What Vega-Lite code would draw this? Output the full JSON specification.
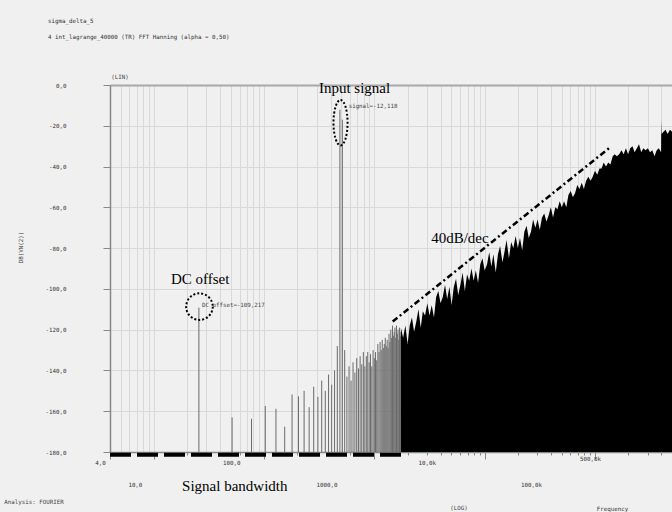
{
  "$schema": "https://vega.github.io/schema/vega-lite/v6.json",
  "width": 562,
  "height": 367,
  "autosize": "none",
  "padding": {"left": 110, "top": 85, "right": 0, "bottom": 60},
  "background": "#f0f0f0",
  "title": {
    "text": "sigma_delta_5",
    "subtitle": "4 int_lagrange_40000 (TR)  FFT Hanning (alpha = 0,50)",
    "anchor": "start",
    "frame": "group",
    "dx": -62,
    "offset": 34,
    "font": "DejaVu Sans Mono",
    "fontSize": 5.8,
    "fontWeight": "normal",
    "color": "#333333",
    "subtitleFont": "DejaVu Sans Mono",
    "subtitleFontSize": 5.8,
    "subtitleColor": "#333333",
    "subtitlePadding": 10
  },
  "config": {"view": {"stroke": null}},
  "datasets": {
    "bins": [
      {"f": 25.6, "db": -109.2}, {"f": 51.2, "db": -163}, {"f": 76.8, "db": -163.7}, {"f": 102.4, "db": -157.4},
      {"f": 128, "db": -158.8}, {"f": 153.6, "db": -167.6}, {"f": 179.2, "db": -151.8}, {"f": 204.8, "db": -152.7},
      {"f": 230.4, "db": -150}, {"f": 256, "db": -158}, {"f": 281.6, "db": -148}, {"f": 307.2, "db": -153},
      {"f": 332.8, "db": -145}, {"f": 358.4, "db": -150}, {"f": 384, "db": -142}, {"f": 409.6, "db": -147},
      {"f": 435.2, "db": -140}, {"f": 460.8, "db": -128}, {"f": 486.4, "db": -12.1}, {"f": 512, "db": -17},
      {"f": 537.6, "db": -130}, {"f": 563.2, "db": -143}, {"f": 588.8, "db": -138}, {"f": 614.4, "db": -145},
      {"f": 640, "db": -136}, {"f": 665.6, "db": -141}, {"f": 691.2, "db": -134}, {"f": 716.8, "db": -139},
      {"f": 742.4, "db": -133}, {"f": 768, "db": -137}, {"f": 793.6, "db": -131}, {"f": 819.2, "db": -138},
      {"f": 844.8, "db": -133}, {"f": 870.4, "db": -131}, {"f": 896, "db": -136}, {"f": 921.6, "db": -132},
      {"f": 947.2, "db": -138}, {"f": 972.8, "db": -130}, {"f": 998.4, "db": -134}, {"f": 1024, "db": -131},
      {"f": 1049.6, "db": -135}, {"f": 1075.2, "db": -127}, {"f": 1100.8, "db": -131}, {"f": 1126.4, "db": -126},
      {"f": 1152, "db": -130}, {"f": 1177.6, "db": -125}, {"f": 1203.2, "db": -129}, {"f": 1228.8, "db": -127},
      {"f": 1254.4, "db": -124}, {"f": 1280, "db": -128}, {"f": 1305.6, "db": -125}, {"f": 1331.2, "db": -129},
      {"f": 1356.8, "db": -122}, {"f": 1382.4, "db": -126}, {"f": 1408, "db": -120}, {"f": 1433.6, "db": -124},
      {"f": 1459.2, "db": -118}, {"f": 1484.8, "db": -123}, {"f": 1510.4, "db": -121}, {"f": 1536, "db": -119},
      {"f": 1561.6, "db": -124}, {"f": 1587.2, "db": -118}, {"f": 1612.8, "db": -122}, {"f": 1638.4, "db": -120},
      {"f": 1664, "db": -125}, {"f": 1689.6, "db": -119}, {"f": 1715.2, "db": -123}, {"f": 1740.8, "db": -121}
    ],
    "noise": [
      {"f": 1740, "db": -119}, {"f": 1820, "db": -124}, {"f": 1910, "db": -118}, {"f": 2000, "db": -127},
      {"f": 2090, "db": -118}, {"f": 2190, "db": -114}, {"f": 2290, "db": -121}, {"f": 2400, "db": -116},
      {"f": 2510, "db": -110}, {"f": 2630, "db": -119}, {"f": 2750, "db": -111}, {"f": 2880, "db": -113},
      {"f": 3020, "db": -107}, {"f": 3160, "db": -113}, {"f": 3310, "db": -108}, {"f": 3470, "db": -114},
      {"f": 3630, "db": -104}, {"f": 3800, "db": -101}, {"f": 3980, "db": -107}, {"f": 4170, "db": -104},
      {"f": 4370, "db": -98}, {"f": 4570, "db": -105}, {"f": 4790, "db": -99}, {"f": 5010, "db": -108},
      {"f": 5250, "db": -99}, {"f": 5500, "db": -95}, {"f": 5750, "db": -103}, {"f": 6030, "db": -98},
      {"f": 6310, "db": -92}, {"f": 6610, "db": -101}, {"f": 6920, "db": -93}, {"f": 7240, "db": -96},
      {"f": 7590, "db": -90}, {"f": 7940, "db": -96}, {"f": 8320, "db": -91}, {"f": 8710, "db": -97},
      {"f": 9120, "db": -88}, {"f": 9550, "db": -85}, {"f": 10000, "db": -91}, {"f": 10500, "db": -88},
      {"f": 11000, "db": -82}, {"f": 11500, "db": -89}, {"f": 12000, "db": -83}, {"f": 12600, "db": -92},
      {"f": 13200, "db": -83}, {"f": 13800, "db": -79}, {"f": 14500, "db": -87}, {"f": 15100, "db": -82},
      {"f": 15800, "db": -76}, {"f": 16600, "db": -85}, {"f": 17400, "db": -77}, {"f": 18200, "db": -80},
      {"f": 19100, "db": -74}, {"f": 20000, "db": -80}, {"f": 20900, "db": -75}, {"f": 21900, "db": -81},
      {"f": 22900, "db": -72}, {"f": 24000, "db": -69}, {"f": 25100, "db": -75}, {"f": 26300, "db": -72},
      {"f": 27500, "db": -66}, {"f": 28800, "db": -70}, {"f": 30200, "db": -66}, {"f": 31600, "db": -71},
      {"f": 33100, "db": -65}, {"f": 34700, "db": -63}, {"f": 36300, "db": -67}, {"f": 38000, "db": -64},
      {"f": 39800, "db": -60}, {"f": 41700, "db": -65}, {"f": 43700, "db": -60}, {"f": 45700, "db": -61},
      {"f": 47900, "db": -57}, {"f": 50100, "db": -60}, {"f": 52500, "db": -57}, {"f": 55000, "db": -60},
      {"f": 57500, "db": -54}, {"f": 60300, "db": -52}, {"f": 63100, "db": -55}, {"f": 66100, "db": -53},
      {"f": 69200, "db": -49}, {"f": 72400, "db": -51}, {"f": 75900, "db": -48}, {"f": 79400, "db": -51},
      {"f": 83200, "db": -47}, {"f": 87100, "db": -45}, {"f": 91200, "db": -47}, {"f": 95500, "db": -45},
      {"f": 100000, "db": -42}, {"f": 105000, "db": -44}, {"f": 110000, "db": -41}, {"f": 115000, "db": -41},
      {"f": 120000, "db": -38}, {"f": 126000, "db": -40}, {"f": 132000, "db": -38}, {"f": 138000, "db": -39},
      {"f": 145000, "db": -35}, {"f": 151000, "db": -34}, {"f": 158000, "db": -35}, {"f": 166000, "db": -34},
      {"f": 174000, "db": -32}, {"f": 182000, "db": -34}, {"f": 191000, "db": -31}, {"f": 200000, "db": -34},
      {"f": 209000, "db": -31}, {"f": 219000, "db": -30}, {"f": 229000, "db": -33}, {"f": 240000, "db": -31},
      {"f": 251000, "db": -29}, {"f": 263000, "db": -33}, {"f": 275000, "db": -31}, {"f": 288000, "db": -32},
      {"f": 302000, "db": -31}, {"f": 316000, "db": -33}, {"f": 331000, "db": -32}, {"f": 347000, "db": -35},
      {"f": 363000, "db": -32}, {"f": 380000, "db": -31}, {"f": 398000, "db": -33}, {"f": 400000, "db": -17},
      {"f": 403000, "db": -24}, {"f": 417000, "db": -23}, {"f": 437000, "db": -22}, {"f": 457000, "db": -24},
      {"f": 479000, "db": -22}, {"f": 501000, "db": -23}
    ],
    "bandwidth": [{"f": 4, "f2": 1750, "db": -181.4}],
    "slope": [{"f": 1466, "db": -116, "f2": 140000, "db2": -30.2}],
    "dc": [{"f": 25.9, "db": -108.7}],
    "sig": [{"f": 493, "db": -18.5}],
    "notes": [
      {"f": 661, "db": -1.5, "label": "Input signal"},
      {"f": 26.3, "db": -95.1, "label": "DC offset"},
      {"f": 5960, "db": -75, "label": "40dB/dec"},
      {"f": 54.2, "db": -196.6, "label": "Signal bandwidth"}
    ],
    "smallLeft": [
      {"f": 584, "db": -10.1, "label": "signal=-12,118"},
      {"f": 27.3, "db": -107.8, "label": "DC offset=-109,217"},
      {"f": 0.44, "db": -204.4, "label": "Analysis: FOURIER"}
    ],
    "smallCenter": [
      {"f": 4.93, "db": 3.9, "label": "(LIN)"},
      {"f": 5840, "db": -207.4, "label": "(LOG)"}
    ]
  },
  "encoding": {
    "x": {
      "field": "f",
      "type": "quantitative",
      "scale": {"type": "log", "domain": [4, 500000], "nice": false},
      "axis": {
        "title": "Frequency",
        "titleFont": "DejaVu Sans Mono",
        "titleFontSize": 5.8,
        "titleFontWeight": "normal",
        "titleColor": "#333333",
        "titleX": 502,
        "titleY": 56,
        "titleBaseline": "middle",
        "values": [4, 5, 6, 7, 8, 9, 10, 20, 30, 40, 50, 60, 70, 80, 90, 100, 200, 300, 400, 500, 600, 700, 800, 900, 1000, 2000, 3000, 4000, 5000, 6000, 7000, 8000, 9000, 10000, 20000, 30000, 40000, 50000, 60000, 70000, 80000, 90000, 100000, 200000, 300000, 400000, 500000],
        "labelExpr": "datum.value==4?'4,0':datum.value==10?['','10,0']:datum.value==100?'100,0':datum.value==1000?['','1000,0']:datum.value==10000?'10,0k':datum.value==100000?['','100,0k']:datum.value==500000?'500,0k':''",
        "labelOverlap": false,
        "labelBound": false,
        "labelFlush": false,
        "labelFont": "DejaVu Sans Mono",
        "labelFontSize": 5.8,
        "labelColor": "#333333",
        "labelLineHeight": 22,
        "labelPadding": 0,
        "labelOffset": {
          "condition": [
            {"test": "datum.value==4", "value": -10},
            {"test": "datum.value==10", "value": -19},
            {"test": "datum.value==100", "value": -33},
            {"test": "datum.value==1000", "value": -48},
            {"test": "datum.value==10000", "value": -58},
            {"test": "datum.value==100000", "value": -64},
            {"test": "datum.value==500000", "value": -82}
          ],
          "value": 0
        },
        "tickSize": {"condition": {"test": "datum.value==4||datum.value==10||datum.value==100||datum.value==1000||datum.value==10000||datum.value==100000", "value": 7}, "value": 3},
        "tickColor": "#888888",
        "domainColor": "#888888",
        "domainWidth": 1.5,
        "gridColor": "#d9d9d9",
        "gridWidth": 1
      }
    },
    "y": {
      "field": "db",
      "type": "quantitative",
      "scale": {"domain": [-180, 0], "nice": false, "zero": false},
      "axis": {
        "title": "DB(VN(2))",
        "titleFont": "DejaVu Sans Mono",
        "titleFontSize": 5.8,
        "titleFontWeight": "normal",
        "titleColor": "#333333",
        "titleX": -90,
        "titleY": 162,
        "titleAngle": -90,
        "titleAlign": "center",
        "titleBaseline": "middle",
        "values": [-180, -160, -140, -120, -100, -80, -60, -40, -20, 0],
        "labelExpr": "(datum.value<0?'-':'') + abs(datum.value) + ',0'",
        "labelFont": "DejaVu Sans Mono",
        "labelFontSize": 5.8,
        "labelColor": "#333333",
        "labelPadding": 37,
        "tickSize": 7,
        "tickColor": "#888888",
        "domainColor": "#888888",
        "domainWidth": 1.5,
        "gridColor": {"condition": {"test": "datum.value==0", "value": "#a8a8a8"}, "value": "#d9d9d9"},
        "gridWidth": {"condition": {"test": "datum.value==0", "value": 2}, "value": 1}
      }
    }
  },
  "layer": [
    {
      "data": {"name": "bins"},
      "mark": {"type": "rule", "color": "#6a6a6a", "strokeWidth": 1},
      "encoding": {"y2": {"datum": -180}}
    },
    {
      "data": {"name": "noise"},
      "mark": {"type": "area", "color": "#000000", "interpolate": "linear"},
      "encoding": {"y2": {"datum": -180}}
    },
    {
      "data": {"name": "bandwidth"},
      "mark": {"type": "rule", "color": "#000000", "strokeWidth": 4, "strokeDash": [21, 6]},
      "encoding": {"x2": {"field": "f2"}}
    },
    {
      "data": {"name": "slope"},
      "mark": {"type": "rule", "color": "#000000", "strokeWidth": 2.5, "strokeDash": [6, 3, 2, 3]},
      "encoding": {"x2": {"field": "f2"}, "y2": {"field": "db2"}}
    },
    {
      "data": {"name": "dc"},
      "mark": {"type": "point", "shape": "circle", "size": 707, "filled": false, "stroke": "#000000", "strokeWidth": 2, "strokeDash": [2, 2], "opacity": 1}
    },
    {
      "data": {"name": "sig"},
      "mark": {"type": "point", "shape": "M0,-1A0.31,1,0,1,1,0,1A0.31,1,0,1,1,0,-1Z", "size": 2061, "filled": false, "stroke": "#000000", "strokeWidth": 2, "strokeDash": [2, 2], "opacity": 1}
    },
    {
      "data": {"name": "notes"},
      "mark": {"type": "text", "font": "Liberation Serif", "fontSize": 15, "color": "#000000", "baseline": "middle", "align": "center"},
      "encoding": {"text": {"field": "label"}}
    },
    {
      "data": {"name": "smallLeft"},
      "mark": {"type": "text", "font": "DejaVu Sans Mono", "fontSize": 5.8, "color": "#444444", "baseline": "middle", "align": "left"},
      "encoding": {"text": {"field": "label"}}
    },
    {
      "data": {"name": "smallCenter"},
      "mark": {"type": "text", "font": "DejaVu Sans Mono", "fontSize": 5.8, "color": "#444444", "baseline": "middle", "align": "center"},
      "encoding": {"text": {"field": "label"}}
    }
  ]
}
